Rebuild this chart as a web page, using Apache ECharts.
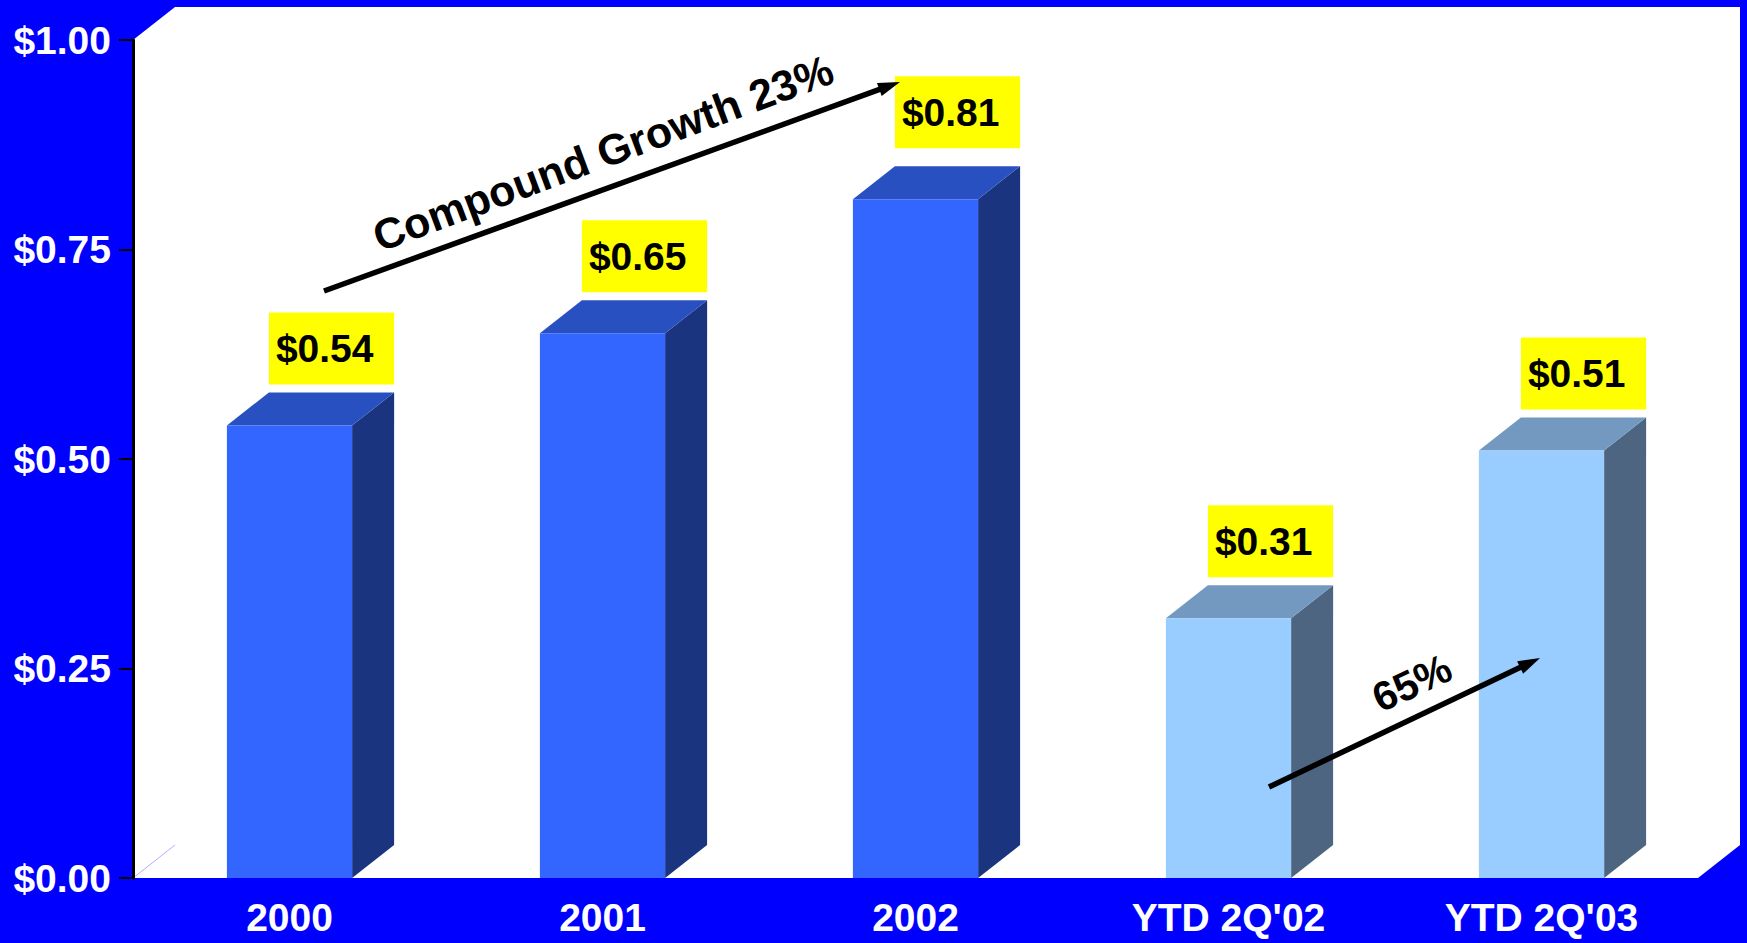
<!DOCTYPE html>
<html>
<head>
<meta charset="utf-8">
<script src="https://cdn.jsdelivr.net/npm/echarts@6/dist/echarts.min.js"></script>
<style>
  html, body { margin: 0; padding: 0; background: #0000FF; }
  #chart { width: 1747px; height: 943px; }
</style>
</head>
<body>
<div id="chart"></div>
<script>
// Earnings per share by period
const categories = ['2000', '2001', '2002', "YTD 2Q'02", "YTD 2Q'03"];
const eps = [0.54, 0.65, 0.81, 0.31, 0.51];
const yTicks = [0, 0.25, 0.5, 0.75, 1];

const FONT = '"Liberation Sans", Arial, Helvetica, sans-serif';
const GRID = { left: 133, right: 49, top: 40, bottom: 65 };
const DX = 42, DY = 33;           // depth of the 3D box and bars
const BAR_RATIO = 0.4;            // bar width relative to category band
const LABEL_GAP = 8;              // space between a bar's top and its value box
const LABEL_LIFT = { '2002': 10 }; // extra lift for boxes set higher

const FACES = {
  year: { front: '#3366FF', top: '#2850C0', side: '#1A3480' },
  ytd:  { front: '#99CCFF', top: '#7399C0', side: '#4D6580' }
};

function renderBar(params, api) {
  const idx = api.value(0);
  const v = api.value(1);
  const top = api.coord([idx, v]);
  const base = api.coord([idx, 0]);
  const bw = api.size([1, 0])[0] * BAR_RATIO;
  const xL = top[0] - bw / 2, xR = top[0] + bw / 2;
  const yT = top[1], yB = base[1];
  const cat = categories[idx];
  const c = cat.startsWith('YTD') ? FACES.ytd : FACES.year;
  const boxH = 72;
  const boxY = yT - DY - LABEL_GAP - (LABEL_LIFT[cat] || 0) - boxH;
  return {
    type: 'group',
    children: [
      { type: 'polygon', shape: { points: [[xR, yT], [xR + DX, yT - DY], [xR + DX, yB - DY], [xR, yB]] },
        style: { fill: c.side } },
      { type: 'polygon', shape: { points: [[xL, yT], [xL + DX, yT - DY], [xR + DX, yT - DY], [xR, yT]] },
        style: { fill: c.top } },
      { type: 'rect', shape: { x: xL, y: yT, width: bw, height: yB - yT }, style: { fill: c.front } },
      { type: 'rect', shape: { x: xL + DX, y: boxY, width: bw, height: boxH }, style: { fill: '#FFFF00' } },
      { type: 'text', x: xL + DX + 7, y: boxY + boxH / 2,
        style: { text: '$' + v.toFixed(2), fill: '#000000', fontSize: 39, fontWeight: 'bold',
                 fontFamily: FONT, align: 'left', verticalAlign: 'middle' } }
    ]
  };
}

const chart = echarts.init(document.getElementById('chart'), null, { renderer: 'svg' });

chart.setOption({
  animation: false,
  backgroundColor: '#0000FF',
  grid: { left: GRID.left, right: GRID.right, top: GRID.top, bottom: GRID.bottom, containLabel: false },
  xAxis: {
    type: 'category',
    data: categories,
    axisLine: { show: false },
    axisTick: { show: false },
    splitLine: { show: false },
    axisLabel: { color: '#FFFFFF', fontSize: 39, fontWeight: 'bold', fontFamily: FONT,
                 margin: 23, lineHeight: 32, interval: 0 }
  },
  yAxis: {
    type: 'value',
    min: yTicks[0],
    max: yTicks[yTicks.length - 1],
    interval: yTicks[1] - yTicks[0],
    axisLine: { show: true, lineStyle: { color: '#000000', width: 3 } },
    axisTick: { show: true, length: 14, lineStyle: { color: '#000000', width: 2 } },
    splitLine: { show: false },
    axisLabel: {
      color: '#FFFFFF', fontSize: 39, fontWeight: 'bold', fontFamily: FONT, margin: 22,
      formatter: v => '$' + v.toFixed(2)
    }
  },
  series: [{
    type: 'custom',
    renderItem: renderBar,
    encode: { x: 0, y: 1 },
    data: eps.map((v, i) => [i, v]),
    z: 5
  }]
});

// 3D backdrop (side wall, back wall and floor) plus annotations
const x0 = GRID.left;
const x1 = chart.getWidth() - GRID.right;
const yTop = chart.convertToPixel({ yAxisIndex: 0 }, yTicks[yTicks.length - 1]);
const yBase = chart.convertToPixel({ yAxisIndex: 0 }, 0);

function arrow(from, to, width, headLen, headW) {
  const ang = Math.atan2(to[1] - from[1], to[0] - from[0]);
  const cos = Math.cos(ang), sin = Math.sin(ang);
  const bx = to[0] - headLen * cos, by = to[1] - headLen * sin;
  return [
    { type: 'line', z: 50, shape: { x1: from[0], y1: from[1], x2: bx + cos, y2: by + sin },
      style: { stroke: '#000000', lineWidth: width } },
    { type: 'polygon', z: 50,
      shape: { points: [to, [bx - headW * sin, by + headW * cos], [bx + headW * sin, by - headW * cos]] },
      style: { fill: '#000000' } }
  ];
}

function label(text, cx, cy, deg, size) {
  return { type: 'text', z: 50, x: cx, y: cy, rotation: deg * Math.PI / 180,
    style: { text: text, fill: '#000000', fontSize: size, fontWeight: 'bold', fontFamily: FONT,
             align: 'center', verticalAlign: 'middle' } };
}

chart.setOption({
  graphic: [
    { type: 'polygon', z: -5,
      shape: { points: [[x0, yTop], [x0 + DX, yTop - DY], [x1 + DX, yTop - DY],
                        [x1 + DX, yBase - DY], [x1, yBase], [x0, yBase]] },
      style: { fill: '#FFFFFF' } },
    { type: 'line', z: -4, shape: { x1: x0, y1: yBase, x2: x0 + DX, y2: yBase - DY },
      style: { stroke: '#B0B0FF', lineWidth: 1 } },
    ...arrow([324, 291], [900, 82], 5.5, 22, 7),
    label('Compound Growth 23%', 603, 153, 20.5, 43),
    ...arrow([1269, 787], [1540, 658], 5.5, 22, 7),
    label('65%', 1412, 683, 25, 41)
  ]
});
</script>
</body>
</html>
